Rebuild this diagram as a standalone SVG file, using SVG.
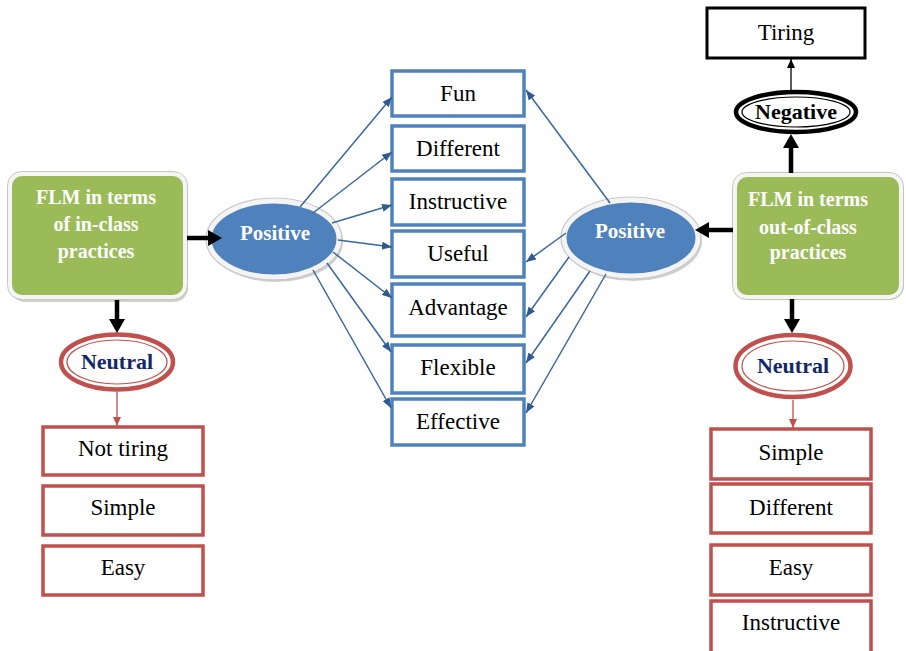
<svg xmlns="http://www.w3.org/2000/svg" width="906" height="651" viewBox="0 0 906 651">
<defs>
<style>
.bg{fill:#ffffff}
.green{fill:#9bbb59;stroke:#f5f5f5;stroke-width:4}
.greenrim{fill:none;stroke:#c3c8b9;stroke-width:1}
.gshadow{fill:#cfd3c7}
.gtxt{font-family:"Liberation Serif","DejaVu Serif",serif;font-weight:bold;font-size:20px;fill:#ffffff;text-anchor:middle}
.pos{fill:#4f81bd;stroke:#f4f4f4;stroke-width:5}
.posrim{fill:none;stroke:#c8c8c8;stroke-width:1.2}
.pshadow{fill:#cfcfcf}
.ptxt{font-family:"Liberation Serif","DejaVu Serif",serif;font-weight:bold;font-size:21px;fill:#ffffff;text-anchor:middle}
.bbox{fill:#ffffff;stroke:#4f81bd;stroke-width:3.5}
.rbox{fill:#ffffff;stroke:#c0504d;stroke-width:3.5}
.kbox{fill:#ffffff;stroke:#000000;stroke-width:3}
.txt{font-family:"Liberation Serif","DejaVu Serif",serif;font-weight:normal;font-style:normal;font-size:23px;fill:#000000;text-anchor:middle}
.nout{fill:#ffffff;stroke:#c0504d;stroke-width:4.5}
.nin{fill:none;stroke:#c0504d;stroke-width:1.2}
.ntxt{font-family:"Liberation Serif","DejaVu Serif",serif;font-weight:bold;font-size:22px;fill:#13276b;text-anchor:middle}
.kout{fill:#ffffff;stroke:#000000;stroke-width:4.5}
.kin{fill:none;stroke:#000000;stroke-width:1.2}
.ktxt{font-family:"Liberation Serif","DejaVu Serif",serif;font-weight:bold;font-size:22px;fill:#000000;text-anchor:middle}
.thick{stroke:#000000;stroke-width:4.5;fill:none;marker-end:url(#bigArrow)}
.thinK{stroke:#000000;stroke-width:1.3;fill:none;marker-end:url(#smallK)}
.thinR{stroke:#c0504d;stroke-width:1.3;fill:none;marker-end:url(#smallR)}
.blue{stroke:#3a679e;stroke-width:1.5;fill:none;marker-end:url(#smallB)}
</style>
<marker id="bigArrow" markerUnits="userSpaceOnUse" markerWidth="15" markerHeight="16" refX="2" refY="8" orient="auto">
<path d="M0,0 L14,8 L0,16 z" fill="#000000"/>
</marker>
<marker id="smallB" markerUnits="userSpaceOnUse" markerWidth="10" markerHeight="8" refX="10" refY="4" orient="auto">
<path d="M0,0 L10,4 L0,8 z" fill="#2f5b8f"/>
</marker>
<marker id="smallK" markerUnits="userSpaceOnUse" markerWidth="9" markerHeight="8" refX="9" refY="4" orient="auto">
<path d="M0,0 L9,4 L0,8 z" fill="#000000"/>
</marker>
<marker id="smallR" markerUnits="userSpaceOnUse" markerWidth="9" markerHeight="8" refX="9" refY="4" orient="auto">
<path d="M0,0 L9,4 L0,8 z" fill="#c0504d"/>
</marker>
</defs>
<rect class="bg" x="0" y="0" width="906" height="651"/>

<g id="flm-in-class">
<rect class="gshadow" x="11" y="177" width="177" height="125" rx="14"/>
<rect class="green" x="10" y="174" width="175" height="123" rx="12"/>
<rect class="greenrim" x="7.5" y="171.5" width="180" height="128" rx="14"/>
<text class="gtxt" x="96" y="204">FLM in terms</text>
<text class="gtxt" x="96" y="231">of in-class</text>
<text class="gtxt" x="96" y="258">practices</text>
</g>

<g id="flm-out-of-class">
<rect class="gshadow" x="736" y="178" width="168" height="122" rx="14"/>
<rect class="green" x="735" y="175" width="166" height="122" rx="12"/>
<rect class="greenrim" x="732.5" y="172.5" width="171" height="127" rx="14"/>
<text class="gtxt" x="808" y="206">FLM in terms</text>
<text class="gtxt" x="808" y="234">out-of-class</text>
<text class="gtxt" x="808" y="259">practices</text>
</g>

<g id="positive-left">
<ellipse class="pshadow" cx="276" cy="242" rx="67" ry="40"/>
<ellipse class="pos" cx="274" cy="239" rx="65" ry="38"/>
<ellipse class="posrim" cx="274" cy="239" rx="68" ry="41"/>
<text class="ptxt" x="275" y="240">Positive</text>
</g>

<g id="positive-right">
<ellipse class="pshadow" cx="633" cy="241" rx="69" ry="40"/>
<ellipse class="pos" cx="631" cy="238" rx="67" ry="38"/>
<ellipse class="posrim" cx="631" cy="238" rx="70" ry="41"/>
<text class="ptxt" x="630" y="238">Positive</text>
</g>

<g id="fun"><rect class="bbox" x="392" y="71" width="132" height="45"/><text class="txt" x="458" y="101">Fun</text></g>
<g id="different"><rect class="bbox" x="392" y="126" width="132" height="45"/><text class="txt" x="458" y="156">Different</text></g>
<g id="instructive"><rect class="bbox" x="392" y="179" width="132" height="46"/><text class="txt" x="458" y="209">Instructive</text></g>
<g id="useful"><rect class="bbox" x="392" y="231" width="132" height="46"/><text class="txt" x="458" y="261">Useful</text></g>
<g id="advantage"><rect class="bbox" x="392" y="284" width="132" height="52"/><text class="txt" x="458" y="315">Advantage</text></g>
<g id="flexible"><rect class="bbox" x="392" y="345" width="132" height="48"/><text class="txt" x="458" y="375">Flexible</text></g>
<g id="effective"><rect class="bbox" x="392" y="399" width="132" height="46"/><text class="txt" x="458" y="429">Effective</text></g>

<g id="neutral-left">
<ellipse class="nout" cx="117" cy="362" rx="56" ry="27.5"/>
<ellipse class="nin" cx="117" cy="362" rx="50" ry="22"/>
<text class="ntxt" x="117" y="369">Neutral</text>
</g>
<g id="not-tiring"><rect class="rbox" x="43" y="427" width="160" height="48"/><text class="txt" x="123" y="456">Not tiring</text></g>
<g id="simple-left"><rect class="rbox" x="43" y="486" width="160" height="49"/><text class="txt" x="123" y="515">Simple</text></g>
<g id="easy-left"><rect class="rbox" x="43" y="546" width="160" height="49"/><text class="txt" x="123" y="575">Easy</text></g>

<g id="negative">
<ellipse class="kout" cx="796" cy="112" rx="60" ry="20"/>
<ellipse class="kin" cx="796" cy="112" rx="54" ry="15"/>
<text class="ktxt" x="796" y="119">Negative</text>
</g>
<g id="tiring"><rect class="kbox" x="707" y="8" width="158" height="50"/><text class="txt" x="786" y="40">Tiring</text></g>

<g id="neutral-right">
<ellipse class="nout" cx="793" cy="366" rx="57.5" ry="31"/>
<ellipse class="nin" cx="793" cy="366" rx="51" ry="25"/>
<text class="ntxt" x="793" y="373">Neutral</text>
</g>
<g id="simple-right"><rect class="rbox" x="711" y="429" width="160" height="50"/><text class="txt" x="791" y="460">Simple</text></g>
<g id="different-right"><rect class="rbox" x="711" y="484" width="160" height="49"/><text class="txt" x="791" y="515">Different</text></g>
<g id="easy-right"><rect class="rbox" x="711" y="545" width="160" height="50"/><text class="txt" x="791" y="575">Easy</text></g>
<g id="instructive-right"><rect class="rbox" x="711" y="601" width="160" height="55"/><text class="txt" x="791" y="630">Instructive</text></g>

<g id="connectors">
<line class="blue" x1="300" y1="207" x2="392" y2="97"/>
<line class="blue" x1="313" y1="213" x2="392" y2="152"/>
<line class="blue" x1="332" y1="223" x2="392" y2="205"/>
<line class="blue" x1="338" y1="240" x2="392" y2="247"/>
<line class="blue" x1="333" y1="252" x2="392" y2="298"/>
<line class="blue" x1="327" y1="263" x2="391" y2="352"/>
<line class="blue" x1="313" y1="270" x2="391" y2="408"/>
<line class="blue" x1="610" y1="203" x2="526" y2="90"/>
<line class="blue" x1="566" y1="233" x2="526" y2="262"/>
<line class="blue" x1="569" y1="257" x2="526" y2="317"/>
<line class="blue" x1="590" y1="271" x2="526" y2="363"/>
<line class="blue" x1="606" y1="274" x2="526" y2="413"/>
<line class="thick" x1="187" y1="238" x2="210" y2="238"/>
<line class="thick" x1="117" y1="300" x2="117" y2="321"/>
<line class="thick" x1="733" y1="230" x2="707" y2="230"/>
<line class="thick" x1="791" y1="173" x2="791" y2="146"/>
<line class="thick" x1="792" y1="299" x2="792" y2="321"/>
<line class="thinK" x1="791" y1="90" x2="791" y2="59"/>
<line class="thinR" x1="117" y1="392" x2="117" y2="426"/>
<line class="thinR" x1="793" y1="400" x2="793" y2="428"/>
</g>
</svg>
